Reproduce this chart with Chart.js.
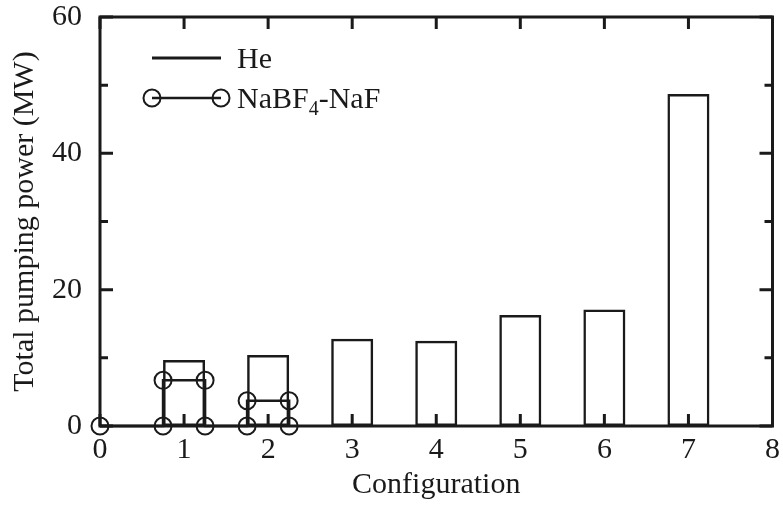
<!DOCTYPE html>
<html>
<head>
<meta charset="utf-8">
<script src="https://cdn.jsdelivr.net/npm/chart.js@4.4.0/dist/chart.umd.min.js"></script>
<style>
  html, body { margin: 0; padding: 0; background: #fff; }
  #wrap { width: 783px; height: 512px; }
</style>
</head>
<body>
<div id="wrap"><canvas id="c" width="783" height="512"></canvas></div>
<script>
// ---- data ----
const configs = [1, 2, 3, 4, 5, 6, 7];
const heValues = [9.7, 10.4, 12.8, 12.5, 16.3, 17.1, 48.7];
const naConfigs = [1, 2];
const naValues = [6.7, 3.7];
const xTickValues = [0, 1, 2, 3, 4, 5, 6, 7, 8];
const yTickValues = [0, 20, 40, 60];
const yMinorValues = [10, 30, 50];
const seriesNames = ['He', 'NaBF4-NaF'];
const xTitle = 'Configuration';
const yTitle = 'Total pumping power (MW)';

const halfWidth = 0.25;
const FONT = '"Liberation Serif", "Times New Roman", Times, serif';
const INK = '#1a1a1a';

const heData = configs.map((c, i) => ({ x: c, y: heValues[i] }));
const naData = [{ x: 0, y: 0 }];
naConfigs.forEach((c, i) => {
  naData.push({ x: c - halfWidth, y: 0 });
  naData.push({ x: c - halfWidth, y: naValues[i] });
  naData.push({ x: c + halfWidth, y: naValues[i] });
  naData.push({ x: c + halfWidth, y: 0 });
});

const framePlugin = {
  id: 'frame',
  afterDatasetsDraw(chart) {
    const { ctx, chartArea: a, scales: { x, y } } = chart;
    ctx.save();
    ctx.strokeStyle = INK;
    ctx.lineCap = 'butt';
    ctx.lineWidth = 3;
    xTickValues.forEach(v => {
      const px = x.getPixelForValue(v);
      ctx.beginPath();
      ctx.moveTo(px, a.bottom); ctx.lineTo(px, a.bottom - 12);
      ctx.moveTo(px, a.top); ctx.lineTo(px, a.top + 12);
      ctx.stroke();
    });
    yTickValues.forEach(v => {
      const py = y.getPixelForValue(v);
      ctx.beginPath();
      ctx.moveTo(a.left, py); ctx.lineTo(a.left + 13, py);
      ctx.moveTo(a.right, py); ctx.lineTo(a.right - 13, py);
      ctx.stroke();
    });
    yMinorValues.forEach(v => {
      const py = y.getPixelForValue(v);
      ctx.beginPath();
      ctx.moveTo(a.left, py); ctx.lineTo(a.left + 8, py);
      ctx.moveTo(a.right, py); ctx.lineTo(a.right - 8, py);
      ctx.stroke();
    });
    ctx.strokeRect(a.left, a.top, a.right - a.left, a.bottom - a.top);

    // legend
    const lx0 = a.left + 52, lx1 = a.left + 121, tx = a.left + 137;
    const r1 = a.top + 41, r2 = a.top + 81;
    ctx.lineWidth = 3;
    ctx.beginPath(); ctx.moveTo(lx0, r1); ctx.lineTo(lx1, r1); ctx.stroke();
    ctx.lineWidth = 2.5;
    ctx.beginPath(); ctx.moveTo(lx0, r2); ctx.lineTo(lx1, r2); ctx.stroke();
    ctx.lineWidth = 2;
    [lx0, lx1].forEach(cx => {
      ctx.beginPath(); ctx.arc(cx, r2, 8.5, 0, Math.PI * 2); ctx.stroke();
    });
    ctx.fillStyle = INK;
    ctx.textBaseline = 'alphabetic';
    ctx.textAlign = 'left';
    ctx.font = '30px ' + FONT;
    ctx.fillText(seriesNames[0], tx, r1 + 10);
    let cx = tx;
    ctx.fillText('NaBF', cx, r2 + 10); cx += ctx.measureText('NaBF').width;
    ctx.font = '20px ' + FONT;
    ctx.fillText('4', cx, r2 + 17); cx += ctx.measureText('4').width;
    ctx.font = '30px ' + FONT;
    ctx.fillText('-NaF', cx, r2 + 10);
    ctx.restore();
  }
};

new Chart(document.getElementById('c'), {
  type: 'scatter',
  data: {
    datasets: [
      {
        type: 'bar',
        label: seriesNames[0],
        data: heData,
        backgroundColor: 'rgba(0,0,0,0)',
        borderColor: INK,
        borderWidth: 2.5,
        borderSkipped: false,
        categoryPercentage: 1.0,
        barPercentage: 0.5,
        order: 2
      },
      {
        type: 'line',
        label: seriesNames[1],
        data: naData,
        showLine: true,
        clip: false,
        borderColor: INK,
        borderWidth: 2.5,
        pointRadius: 8.5,
        pointBorderWidth: 2,
        pointBackgroundColor: 'rgba(0,0,0,0)',
        pointBorderColor: INK,
        tension: 0,
        order: 1
      }
    ]
  },
  options: {
    responsive: false,
    animation: false,
    events: [],
    layout: { padding: { left: 0, right: 6, top: 17, bottom: 0 } },
    plugins: { legend: { display: false }, tooltip: { enabled: false } },
    scales: {
      x: {
        type: 'linear',
        min: 0, max: 8,
        offset: false,
        grid: { display: false, drawTicks: false },
        border: { display: false },
        afterFit(s) { s.height = 86; s.paddingLeft = 0; s.paddingRight = 0; },
        afterBuildTicks(s) { s.ticks = xTickValues.map(v => ({ value: v })); },
        ticks: {
          color: INK,
          font: { family: FONT, size: 30 },
          padding: 6,
          maxRotation: 0,
          autoSkip: false
        },
        title: {
          display: true,
          text: xTitle,
          color: INK,
          font: { family: FONT, size: 30 },
          padding: { top: 0, bottom: 9 }
        }
      },
      y: {
        type: 'linear',
        min: 0, max: 60,
        grid: { display: false, drawTicks: false },
        border: { display: false },
        afterFit(s) { s.width = 100; s.paddingTop = 0; s.paddingBottom = 0; },
        afterBuildTicks(s) { s.ticks = yTickValues.map(v => ({ value: v })); },
        ticks: {
          color: INK,
          font: { family: FONT, size: 30 },
          padding: 18
        },
        title: {
          display: true,
          text: yTitle,
          color: INK,
          font: { family: FONT, size: 30 },
          padding: { top: 7, bottom: 0 }
        }
      }
    }
  },
  plugins: [framePlugin]
});
</script>
</body>
</html>
